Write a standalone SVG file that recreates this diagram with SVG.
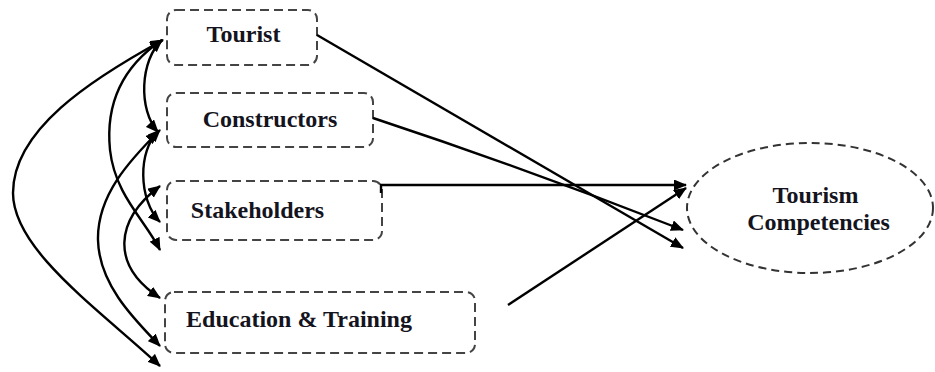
<svg xmlns="http://www.w3.org/2000/svg" width="935" height="372" viewBox="0 0 935 372">
<defs>
<marker id="ah" viewBox="0 0 13 11" refX="12" refY="5.5" markerWidth="13" markerHeight="11" markerUnits="userSpaceOnUse" orient="auto-start-reverse">
<path d="M0,0 L13,5.5 L0,11 z" fill="#000"/>
</marker>
<style>
.box{fill:#fff;stroke:#444;stroke-width:2;stroke-dasharray:9,5}
.ell{fill:#fff;stroke:#333;stroke-width:2;stroke-dasharray:8,5}
.lbl{font-family:"Liberation Serif","Times New Roman",serif;font-weight:bold;font-size:24px;fill:#141420;text-anchor:middle}
.c{fill:none;stroke:#000;stroke-width:2.4}
.bi{marker-start:url(#ah);marker-end:url(#ah)}
.uni{marker-end:url(#ah)}
</style>
</defs>
<rect width="935" height="372" fill="#fff"/>
<g id="tourist">
<rect class="box" x="167" y="10" width="150" height="55" rx="9"/>
<text class="lbl" x="243.5" y="42">Tourist</text>
</g>
<g id="constructors">
<rect class="box" x="167" y="93" width="206" height="54" rx="9"/>
<text class="lbl" x="270" y="127">Constructors</text>
</g>
<g id="stakeholders">
<rect class="box" x="167" y="181" width="215" height="59" rx="9"/>
<text class="lbl" x="257.5" y="218">Stakeholders</text>
</g>
<g id="education">
<rect class="box" x="165" y="292" width="310" height="61" rx="9"/>
<text class="lbl" x="299" y="327">Education &amp; Training</text>
</g>
<g id="competencies">
<ellipse class="ell" cx="810" cy="208" rx="123" ry="65"/>
<text class="lbl" x="815.5" y="203">Tourism</text>
<text class="lbl" x="818.5" y="230">Competencies</text>
</g>
<g id="connectors">
<path class="c bi" d="M163,40 C 90,80 13,130 13,193 C 13,250 100,310 160,366"/>
<path class="c bi" d="M162,40 C 125,65 105,100 110,150 C 115,195 145,220 160,250"/>
<path class="c bi" d="M162,40 C 140,60 138,110 158,132"/>
<path class="c bi" d="M160,130 C 130,160 97,195 98,240 C 99,285 135,320 160,346"/>
<path class="c bi" d="M158,132 C 138,150 138,200 160,222"/>
<path class="c bi" d="M160,186 C 115,220 110,265 160,298"/>
<path class="c uni" d="M317,35 L683,248"/>
<path class="c uni" d="M373,118 Q 530,170 683,230"/>
<path class="c uni" d="M381,193 L381,185 L686,185"/>
<path class="c uni" d="M508,305 L686,188"/>
</g>
</svg>
